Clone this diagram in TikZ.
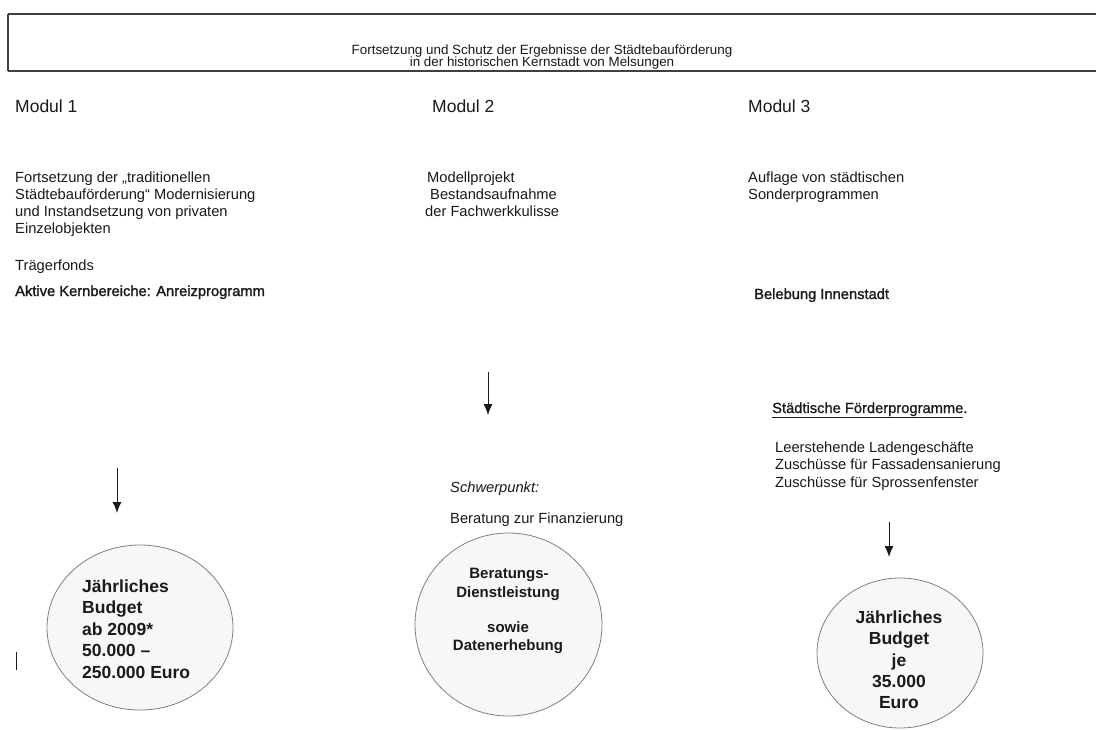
\documentclass[tikz,border=0pt]{standalone}
\usepackage{fontspec}
\setmainfont{Liberation Sans}
\usetikzlibrary{arrows.meta,shapes.geometric}
\definecolor{circfill}{HTML}{F7F7F7}
\definecolor{circline}{HTML}{808080}
\definecolor{ink}{HTML}{1A1A1A}
\tikzset{
  txt/.style={inner sep=0pt, anchor=base west, text=ink, font=\fontsize{14.7}{17}\selectfont, align=left},
  modul/.style={inner sep=0pt, anchor=base west, text=ink, font=\fontsize{17.5}{20}\selectfont},
  ttl/.style={inner sep=0pt, anchor=base, text=ink, font=\fontsize{13.4}{14}\selectfont},
  circ/.style={ellipse, draw=circline, fill=circfill, line width=0.8pt, inner sep=0pt},
  ctext/.style={inner sep=0pt, text=ink, font=\bfseries\fontsize{17.5}{21.5}\selectfont},
  ctextsm/.style={inner sep=0pt, text=ink, font=\bfseries\fontsize{15}{18.5}\selectfont},
  arr/.style={-{Latex[length=11pt,width=9pt]}, line width=1pt, draw=ink},
}
\begin{document}
\begin{tikzpicture}[x=1pt,y=-1pt]
\useasboundingbox (0,0) rectangle (1096,729);
\fill[white] (0,0) rectangle (1096,729);
% title box
\draw[line width=1.6pt, draw=black!75] (8,14) -- (1100,14);
\draw[line width=1.6pt, draw=black!75] (8,71) -- (1100,71);
\draw[line width=1.6pt, draw=black!75] (8,14) -- (8,71);
\node[ttl] (t1) at (542,54) {Fortsetzung und Schutz der Ergebnisse der Städtebauförderung};
\node[ttl] (t2) at (542,66.5) {in der historischen Kernstadt von Melsungen};
% module headings
\node[modul] (m1) at (15,112) {Modul 1};
\node[modul] (m2) at (432,112) {Modul 2};
\node[modul] (m3) at (748,112) {Modul 3};
% module 1
\node[txt] (m1a) at (15,182) {Fortsetzung der „traditionellen};
\node[txt] (m1b) at (15,199) {Städtebauförderung“ Modernisierung};
\node[txt] (m1c) at (15,216) {und Instandsetzung von privaten};
\node[txt] (m1d) at (15,233) {Einzelobjekten};
\node[txt] (m1e) at (15,270) {Trägerfonds};
\node[txt, font=\fontsize{14.7}{17}\selectfont\addfontfeature{FakeBold=1.5}] (m1f) at (15,296) {Aktive Kernbereiche: Anreizprogramm};
% module 2
\node[txt] (m2a) at (427,182) {Modellprojekt};
\node[txt] (m2b) at (430,199) {Bestandsaufnahme};
\node[txt] (m2c) at (425,216) {der Fachwerkkulisse};
% module 3
\node[txt] (m3a) at (748,182) {Auflage von städtischen};
\node[txt] (m3b) at (748,199) {Sonderprogrammen};
\node[txt, font=\fontsize{14.7}{17}\selectfont\addfontfeature{FakeBold=1.5}] (m3c) at (754,299) {Belebung Innenstadt};
% arrows
\coordinate (a1s) at (117,468); \coordinate (a1e) at (117,513);
\coordinate (a2s) at (488,372); \coordinate (a2e) at (488,415);
\coordinate (a3s) at (889,522); \coordinate (a3e) at (889,557);
\draw[arr] (a1s) -- (a1e);
\draw[arr] (a2s) -- (a2e);
\draw[arr] (a3s) -- (a3e);
% module 2 lower texts
\node[txt, font=\itshape\fontsize{14.7}{17}\selectfont] (sp) at (450,492) {Schwerpunkt:};
\node[txt] (bf) at (450,523) {Beratung zur Finanzierung};
% module 3 lower texts
\node[txt, font=\fontsize{14.7}{17}\selectfont\addfontfeature{FakeBold=1}] (sf) at (772,413) {\underline{Städtische Förderprogramme}.};
\node[txt] (l1) at (775,452) {Leerstehende Ladengeschäfte};
\node[txt] (l2) at (775,469.5) {Zuschüsse für Fassadensanierung};
\node[txt] (l3) at (775,487) {Zuschüsse für Sprossenfenster};
% circles
\node[circ, minimum width=186pt, minimum height=165pt] (c1) at (140,627.5) {};
\node[circ, minimum width=187pt, minimum height=183pt] (c2) at (508.5,624.5) {};
\node[circ, minimum width=166pt, minimum height=150pt] (c3) at (900,653) {};
% circle 1 text
\node[ctext, anchor=base west] (c1a) at (82,592) {Jährliches};
\node[ctext, anchor=base west] (c1b) at (82,613.5) {Budget};
\node[ctext, anchor=base west] (c1c) at (82,635) {ab 2009*};
\node[ctext, anchor=base west] (c1d) at (82,656.5) {50.000 –};
\node[ctext, anchor=base west] (c1e) at (82,678) {250.000 Euro};
% circle 2 text
\node[ctextsm, anchor=base] (c2a) at (509,578) {Beratungs-};
\node[ctextsm, anchor=base] (c2b) at (508,597) {Dienstleistung};
\node[ctextsm, anchor=base] (c2c) at (508,632) {sowie};
\node[ctextsm, anchor=base] (c2d) at (508,650) {Datenerhebung};
% circle 3 text
\node[ctext, anchor=base] (c3a) at (899,623) {Jährliches};
\node[ctext, anchor=base] (c3b) at (899,644.5) {Budget};
\node[ctext, anchor=base] (c3c) at (899,666) {je};
\node[ctext, anchor=base] (c3d) at (899,687) {35.000};
\node[ctext, anchor=base] (c3e) at (899,708) {Euro};
% small mark
\coordinate (bar1) at (16,652); \coordinate (bar2) at (16,670);
\draw[line width=1pt, draw=ink] (bar1) -- (bar2);
\end{tikzpicture}
\end{document}
